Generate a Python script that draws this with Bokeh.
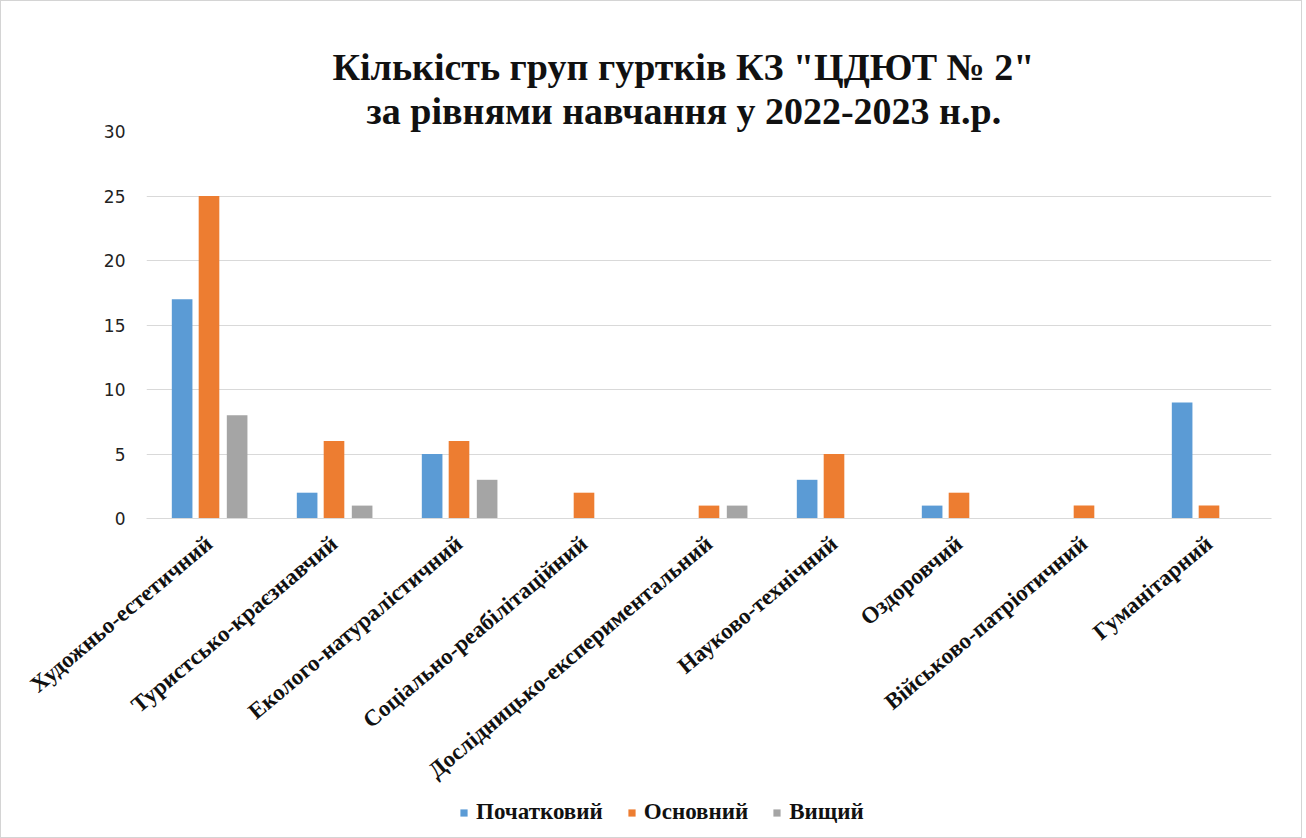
from bokeh.plotting import figure
from bokeh.layouts import column
from bokeh.models import FactorRange, Range1d, Legend, LegendItem, ColumnDataSource, Title
from bokeh.transform import dodge
from bokeh.embed import file_html
from bokeh.resources import INLINE
from math import radians

categories = [
    "Художньо-естетичний",
    "Туристсько-краєзнавчий",
    "Еколого-натуралістичний",
    "Соціально-реабілітаційний",
    "Дослідницько-експериментальний",
    "Науково-технічний",
    "Оздоровчий",
    "Військово-патріотичний",
    "Гуманітарний",
]
series_names = ["Початковий", "Основний", "Вищий"]
pochatkovyi = [17, 2, 5, 0, 0, 3, 1, 0, 9]
osnovnyi = [25, 6, 6, 2, 1, 5, 2, 1, 1]
vyshchyi = [8, 1, 3, 0, 1, 0, 0, 0, 0]
y_ticks = [0, 5, 10, 15, 20, 25, 30]
title_line1 = "Кількість груп гуртків КЗ \"ЦДЮТ № 2\""
title_line2 = "за рівнями  навчання у 2022-2023 н.р."
colors = ["#5B9BD5", "#ED7D31", "#A5A5A5"]

source = ColumnDataSource(dict(cat=categories, s0=pochatkovyi, s1=osnovnyi, s2=vyshchyi))
offsets = [-0.215, 0.0, 0.225]

p = figure(x_range=FactorRange(*categories), y_range=Range1d(0, 30),
           width=1300, height=796,
           output_backend="svg", toolbar_location=None, title=None,
           min_border_left=145, min_border_right=30, min_border_top=130,
           min_border_bottom=279)
p.outline_line_color = None

for i, key in enumerate(["s0", "s1", "s2"]):
    p.vbar(x=dodge("cat", offsets[i], range=p.x_range), top=key, width=0.165,
           source=source, fill_color=colors[i], line_color=None)

p.xgrid.grid_line_color = None
p.ygrid.grid_line_color = "#d9d9d9"
p.yaxis.ticker = y_ticks
p.yaxis.axis_line_color = None
p.yaxis.major_tick_line_color = None
p.yaxis.minor_tick_line_color = None
p.yaxis.major_tick_out = 0
p.yaxis.major_label_text_font = "DejaVu Sans"
p.yaxis.major_label_text_font_size = "17px"
p.yaxis.major_label_text_color = "#222222"
p.yaxis.major_label_standoff = 21

p.xaxis.axis_line_color = "#d9d9d9"
p.xaxis.major_tick_line_color = None
p.xaxis.minor_tick_line_color = None
p.xaxis.major_tick_out = 0
p.xaxis.major_label_orientation = radians(40)
p.xaxis.major_label_text_font = "Liberation Serif"
p.xaxis.major_label_text_font_style = "bold"
p.xaxis.major_label_text_font_size = "23px"
p.xaxis.major_label_text_color = "#111111"
p.xaxis.major_label_standoff = 22

for txt, off in [(title_line2, 220), (title_line1, 186)]:
    p.add_layout(Title(text=txt, align="left", offset=off, standoff=0,
                       text_font="Liberation Serif", text_font_style="bold",
                       text_font_size="38px", text_color="#111111"), "above")

# legend strip below the chart (same series, drawn outside its visible range)
lg = figure(x_range=FactorRange(*categories), y_range=Range1d(100, 101), width=1300, height=40,
            output_backend="svg", toolbar_location=None, title=None,
            x_axis_location=None, y_axis_location=None,
            min_border_left=145, min_border_right=30,
            min_border_top=0, min_border_bottom=0)
lg.outline_line_color = None
lg.grid.grid_line_color = None
lg_renderers = []
for i, key in enumerate(["s0", "s1", "s2"]):
    r = lg.vbar(x=dodge("cat", offsets[i], range=lg.x_range), top=key, width=0.165,
                source=source, fill_color=colors[i], line_color=None)
    lg_renderers.append(r)
legend = Legend(items=[LegendItem(label=series_names[i], renderers=[lg_renderers[i]]) for i in range(3)],
                location=(313, 12), orientation="horizontal",
                border_line_color=None, background_fill_alpha=0,
                label_text_font="Liberation Serif", label_text_font_style="bold",
                label_text_font_size="23px", label_text_color="#111111",
                glyph_width=9, glyph_height=9, spacing=24, padding=0, margin=0,
                label_standoff=8)
lg.add_layout(legend)

layout = column(p, lg, spacing=0, styles={"border": "1px solid #d4d4d4"})

open("out.html", "w").write(file_html(layout, INLINE))
